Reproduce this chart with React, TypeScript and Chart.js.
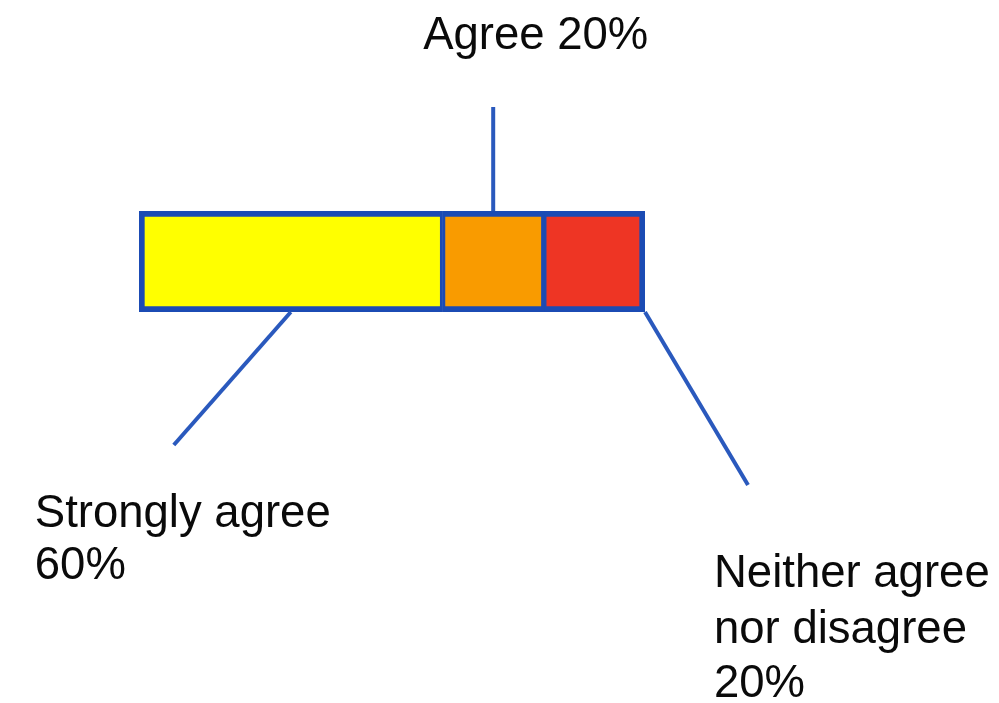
import React, { useEffect, useRef } from "react";
import { Chart, registerables } from "chart.js";

Chart.register(...registerables);

const categories = ["Strongly agree", "Agree", "Neither agree nor disagree"];
const values = [60, 20, 20];
const labelLines = [
  ["Strongly agree", "60%"],
  ["Agree 20%"],
  ["Neither agree", "nor disagree", "20%"],
];
const fillColors = ["#FFFF00", "#F99B00", "#EE3524"];
const borderBlue = "#1B4BB4";
const leaderBlue = "#2A59BD";

const leaderPlugin = {
  id: "leaders",
  afterDatasetsDraw(chart: any) {
    const ctx = chart.ctx;
    const bars = chart.data.datasets.map((_: any, i: number) => chart.getDatasetMeta(i).data[0]);
    const geo = bars.map((b: any) => {
      const p = b.getProps(["x", "y", "base", "height"], true);
      return { left: p.base, right: p.x, top: p.y - p.height / 2, bottom: p.y + p.height / 2, cx: (p.base + p.x) / 2 };
    });
    ctx.save();
    ctx.strokeStyle = leaderBlue;
    ctx.lineWidth = 4;
    ctx.lineCap = "butt";
    const g0 = geo[0], g1 = geo[1], g2 = geo[2];
    const lines = [
      [g0.cx, g0.bottom, g0.cx - 117, g0.bottom + 133],
      [g1.cx, g1.top, g1.cx, g1.top - 104],
      [g2.right, g2.bottom, g2.right + 103, g2.bottom + 173],
    ];
    lines.forEach(([x1, y1, x2, y2]) => {
      ctx.beginPath();
      ctx.moveTo(x1, y1);
      ctx.lineTo(x2, y2);
      ctx.stroke();
    });
    ctx.fillStyle = "#0a0a0a";
    ctx.font = "45.5px 'Liberation Sans', Arial, sans-serif";
    ctx.textAlign = "left";
    ctx.textBaseline = "alphabetic";
    const textPos = [
      { x: g0.cx - 256, ys: [g0.bottom + 215, g0.bottom + 267] },
      { x: g1.cx - 70, ys: [g1.top - 162] },
      { x: g2.right + 69, ys: [g2.bottom + 275, g2.bottom + 331, g2.bottom + 385] },
    ];
    labelLines.forEach((ls, i) => {
      ls.forEach((t, j) => ctx.fillText(t, textPos[i].x, textPos[i].ys[j]));
    });
    ctx.restore();
  },
};

export default function App() {
  const ref = useRef<HTMLCanvasElement>(null);
  useEffect(() => {
    if (!ref.current) return;
    const n = categories.length;
    const chart = new Chart(ref.current, {
      type: "bar",
      data: {
        labels: ["Response"],
        datasets: categories.map((c, i) => ({
          label: c,
          data: [values[i]],
          backgroundColor: fillColors[i],
          borderColor: borderBlue,
          borderSkipped: false,
          borderWidth: {
            top: 6,
            bottom: 6,
            left: i === 0 ? 6 : 3,
            right: i === n - 1 ? 6 : 3,
          },
          barPercentage: 1,
          categoryPercentage: 1,
        })),
      },
      options: {
        indexAxis: "y",
        animation: false,
        responsive: false,
        maintainAspectRatio: false,
        layout: { padding: { left: 139, right: 354, top: 211, bottom: 391 } },
        scales: {
          x: { stacked: true, min: 0, max: 100, display: false },
          y: { stacked: true, display: false },
        },
        plugins: { legend: { display: false }, tooltip: { enabled: false } },
      },
      plugins: [leaderPlugin],
    } as any);
    return () => chart.destroy();
  }, []);
  return (
    <div style={{ position: "fixed", left: 0, top: 0, width: 999, height: 703, background: "#fff" }}>
      <canvas ref={ref} width={999} height={703} style={{ display: "block" }} />
    </div>
  );
}
